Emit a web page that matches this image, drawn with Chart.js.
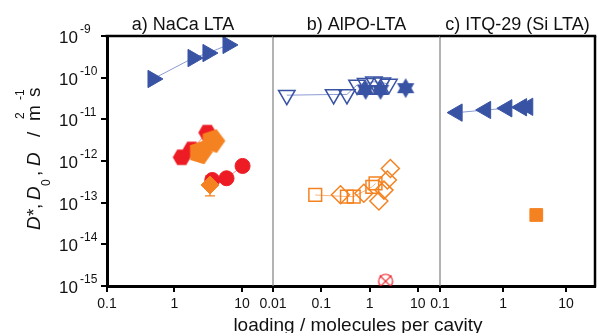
<!DOCTYPE html>
<html><head><meta charset="utf-8">
<script src="https://cdn.jsdelivr.net/npm/chart.js@4.4.0/dist/chart.umd.min.js"></script>
<style>
html,body{margin:0;padding:0;background:#fff;}
#wrap{position:relative;width:606px;height:333px;overflow:hidden;background:#fff;}
#wrap canvas{position:absolute;left:0;top:0;}
</style></head><body>
<div id="wrap">
<canvas id="ca" width="606" height="333"></canvas>
<canvas id="cb" width="606" height="333"></canvas>
<canvas id="cc" width="606" height="333"></canvas>
</div>
<script>
// ---------- data ----------
const panelTitles = ['a) NaCa LTA', 'b) AlPO-LTA', 'c) ITQ-29 (Si LTA)'];
const xAxisTitle = 'loading / molecules per cavity';
const yDecades = [1e-15, 1e-14, 1e-13, 1e-12, 1e-11, 1e-10, 1e-9];
const xTicksA = [0.1, 1, 10];
const xTicksB = [0.01, 0.1, 1, 10];
const xTicksC = [0.1, 1, 10];

// panel a: NaCa LTA
const naBlueX = [0.48, 1.88, 3.13, 6.2];
const naBlueY = [9.3e-11, 2.96e-10, 3.9e-10, 6.1e-10];
const naHexX = [1.28, 1.8, 3.06];
const naHexY = [1.23e-12, 1.9e-12, 4.8e-12];
const naCircX = [3.63, 5.9, 10.2];
const naCircY = [3.5e-13, 3.85e-13, 7.6e-13];
const naPentX = [2.4, 3.7];
const naPentY = [1.6e-12, 3.0e-12];
const naDiaX = [3.36];
const naDiaY = [2.65e-13];
const naDiaErrLo = [1.45e-13];
const naDiaErrHi = [4.4e-13];

// panel b: AlPO-LTA
const alTriX = [0.0193, 0.18, 0.34, 0.55, 0.83, 1.23, 1.84, 2.52];
const alTriY = [3.8e-11, 3.95e-11, 3.95e-11, 6.7e-11, 7.3e-11, 8.0e-11, 7.6e-11, 7.0e-11];
const alStarX = [0.83, 1.69, 5.6];
const alStarY = [5.06e-11, 5.06e-11, 5.6e-11];
const alSqX = [0.075, 0.34, 0.47, 1.14, 1.33];
const alSqY = [1.53e-13, 1.4e-13, 1.4e-13, 2.4e-13, 2.9e-13];
const alDiaX = [0.25, 0.76, 1.56, 1.99, 2.34, 2.7];
const alDiaY = [1.55e-13, 1.68e-13, 1.1e-13, 2.0e-13, 3.5e-13, 6.6e-13];
const alCrossX = [2.15];
const alCrossY = [1.3e-15];

// panel c: ITQ-29
const siTriX = [0.187, 0.53, 1.15, 1.97, 2.47];
const siTriY = [1.45e-11, 1.68e-11, 1.84e-11, 1.95e-11, 2.0e-11];
const siSqX = [3.37];
const siSqY = [5.06e-14];

// ---------- styles ----------
const FONT = '"Liberation Sans", Arial, sans-serif';
const BLUE = '#3953A4', BLUE_LINE = '#8C9BD2';
const RED = '#ED1C24', RED_LINE = '#F28C8C';
const ORANGE = '#F58220', ORANGE_LINE = '#F9B47C';

function shape(kind, r, fill, stroke, lw) {
  const s = Math.ceil(2 * r + 6);
  const c = document.createElement('canvas');
  c.width = s; c.height = s;
  const g = c.getContext('2d');
  const cx = s / 2, cy = s / 2;
  g.lineWidth = lw || 1.2;
  g.strokeStyle = stroke; g.fillStyle = fill;
  const poly = (n, start) => {
    g.beginPath();
    for (let i = 0; i < n; i++) {
      const a = start + 2 * Math.PI / n * i;
      const px = cx + r * Math.cos(a), py = cy + r * Math.sin(a);
      if (i) g.lineTo(px, py); else g.moveTo(px, py);
    }
    g.closePath();
  };
  if (kind === 'hex') { poly(6, 0); g.fill(); }
  else if (kind === 'pent') { poly(5, -Math.PI / 2 + 0.3); g.fill(); }
  else if (kind === 'hexagram') {
    poly(3, -Math.PI / 2); g.fill();
    poly(3, Math.PI / 2); g.fill();
  } else if (kind === 'circx') {
    g.beginPath(); g.arc(cx, cy, r, 0, 2 * Math.PI); g.stroke();
    const d = r * 0.85;
    g.beginPath(); g.moveTo(cx - d, cy - d); g.lineTo(cx + d, cy + d);
    g.moveTo(cx + d, cy - d); g.lineTo(cx - d, cy + d); g.stroke();
  }
  return c;
}

function pts(xs, ys) { return xs.map((x, i) => ({ x: x, y: ys[i] })); }
function ds(xs, ys, o) {
  return Object.assign({ data: pts(xs, ys), showLine: false, borderWidth: 1 }, o);
}

// ---------- plugins ----------
function framePlugin(idx, isFirst, isLast, titleShift) {
  return {
    id: 'frame' + idx,
    afterDraw(chart) {
      const { ctx, chartArea: a } = chart;
      ctx.save();
      if (!isFirst) {
        ctx.strokeStyle = '#8a8a8a'; ctx.lineWidth = 1.3;
        ctx.beginPath(); ctx.moveTo(a.left, a.top); ctx.lineTo(a.left, a.bottom); ctx.stroke();
      }
      ctx.strokeStyle = '#000'; ctx.lineWidth = 2.5;
      ctx.beginPath(); ctx.moveTo(a.left - (isFirst ? 1.5 : 0), a.top); ctx.lineTo(a.right + (isLast ? 1.2 : 0), a.top); ctx.stroke();
      if (isLast) {
        ctx.beginPath(); ctx.moveTo(a.right, a.top); ctx.lineTo(a.right, a.bottom + 1.5); ctx.stroke();
      }
      ctx.fillStyle = '#111';
      ctx.font = '18px ' + FONT;
      ctx.textAlign = 'center'; ctx.textBaseline = 'alphabetic';
      ctx.fillText(panelTitles[idx], (a.left + a.right) / 2 + titleShift, 30);
      ctx.restore();
    }
  };
}

const axisTextPlugin = {
  id: 'axisText',
  afterDraw(chart) {
    const ctx = chart.ctx, ys = chart.scales.y;
    ctx.save();
    ctx.fillStyle = '#111';
    ctx.textBaseline = 'alphabetic';
    // y tick labels with superscripts
    ys.ticks.forEach(t => {
      const v = t.value;
      const e = Math.round(Math.log10(v));
      const py = ys.getPixelForValue(v);
      ctx.font = '17px ' + FONT; ctx.textAlign = 'right';
      ctx.fillText('10', ys.right - 29, py + 7);
      ctx.font = '12px ' + FONT; ctx.textAlign = 'left';
      ctx.fillText('-' + String(-e), ys.right - 27, py - 3);
    });
    // x axis title
    ctx.font = '19px ' + FONT; ctx.textAlign = 'center';
    ctx.fillText(xAxisTitle, 358, 331);
    // y axis title (rotated)
    ctx.translate(40, 230);
    ctx.rotate(-Math.PI / 2);
    ctx.textAlign = 'left';
    const big = '19px ' + FONT, ital = 'italic 19px ' + FONT, small = '12px ' + FONT;
    const pieces = [
      ['D', 0, 0, ital], ['*', 14, 0, big], [',', 21, 0, big],
      ['D', 30, 0, ital], ['0', 44, 10, small], [',', 54, 0, big],
      ['D', 64, 0, ital], ['/', 93, 0, big], ['m', 109, 0, big],
      ['2', 111, -16, small], ['s', 133, 0, big], ['-1', 130, -16, small]
    ];
    pieces.forEach(p => { ctx.font = p[3]; ctx.fillText(p[0], p[1], p[2]); });
    ctx.restore();
  }
};

const errPlugin = {
  id: 'err',
  beforeDatasetsDraw(chart) {
    const ctx = chart.ctx, xs = chart.scales.x, ys = chart.scales.y;
    ctx.save();
    ctx.strokeStyle = ORANGE; ctx.lineWidth = 1.3;
    naDiaX.forEach((x, i) => {
      const px = xs.getPixelForValue(x);
      const lo = ys.getPixelForValue(naDiaErrLo[i]), hi = ys.getPixelForValue(naDiaErrHi[i]);
      ctx.beginPath();
      ctx.moveTo(px, lo); ctx.lineTo(px, hi);
      ctx.moveTo(px - 5, lo); ctx.lineTo(px + 5, lo);
      ctx.moveTo(px - 5, hi); ctx.lineTo(px + 5, hi);
      ctx.stroke();
    });
    ctx.restore();
  }
};

// ---------- chart factory ----------
function makeChart(id, o) {
  return new Chart(document.getElementById(id), {
    type: 'scatter',
    data: { datasets: o.datasets },
    options: {
      responsive: false, animation: false, events: [],
      layout: { padding: { left: o.padL, right: o.padR, top: 36, bottom: 0 } },
      plugins: { legend: { display: false }, tooltip: { enabled: false } },
      scales: {
        x: {
          type: 'logarithmic', min: o.xmin, max: o.xmax,
          afterBuildTicks: s => { s.ticks = o.xticks.map(v => ({ value: v })); },
          afterFit: s => { s.height = 47; },
          ticks: { callback: v => String(v), font: { family: FONT, size: 14 }, color: '#111', padding: 4, maxRotation: 0, autoSkip: false },
          grid: { display: true, drawOnChartArea: false, drawTicks: true, tickLength: 6, lineWidth: 2, color: '#000' },
          border: { display: true, width: 3, color: '#000' }
        },
        y: {
          type: 'logarithmic', min: 1e-15, max: 1e-9, display: o.showY,
          afterBuildTicks: s => { s.ticks = yDecades.map(v => ({ value: v })); },
          afterFit: s => { s.width = o.showY ? 107 : 0; },
          ticks: { display: false },
          grid: { display: true, drawOnChartArea: false, drawTicks: true, tickLength: 6, lineWidth: 2, color: '#000' },
          border: { display: true, width: 3, color: '#000' }
        }
      }
    },
    plugins: o.plugins
  });
}

// panel a
makeChart('ca', {
  padL: 0, padR: 606 - 273, xmin: 0.1, xmax: 28.8, xticks: xTicksA, showY: true,
  plugins: [errPlugin, axisTextPlugin, framePlugin(0, true, false, -7)],
  datasets: [
    ds(naPentX, naPentY, { pointStyle: shape('pent', 12.5, ORANGE, ORANGE), pointRadius: 12.5 }),
    ds(naDiaX, naDiaY, { pointStyle: 'rectRot', pointRadius: 9, pointBackgroundColor: ORANGE, pointBorderColor: ORANGE }),
    ds(naBlueX, naBlueY, { showLine: true, borderColor: BLUE_LINE, borderWidth: 1, pointStyle: 'triangle', rotation: 90, pointRadius: 10, pointBackgroundColor: BLUE, pointBorderColor: BLUE }),
    ds(naHexX, naHexY, { showLine: true, borderColor: RED_LINE, borderWidth: 1, pointStyle: shape('hex', 9, RED, RED), pointRadius: 9 }),
    ds(naCircX, naCircY, { showLine: true, borderColor: RED_LINE, borderWidth: 1, pointStyle: 'circle', pointRadius: 7.5, pointBackgroundColor: RED, pointBorderColor: RED })
  ]
});

// panel b
makeChart('cb', {
  padL: 273, padR: 606 - 440, xmin: 0.01, xmax: 28.8, xticks: xTicksB, showY: false,
  plugins: [framePlugin(1, false, false, 0)],
  datasets: [
    ds(alStarX, alStarY, { pointStyle: shape('hexagram', 10, BLUE, BLUE), pointRadius: 10 }),
    ds(alCrossX, alCrossY, { pointStyle: shape('circx', 7, 'rgba(0,0,0,0)', RED, 1.2), pointRadius: 7 }),
    ds(alDiaX, alDiaY, { pointStyle: 'rectRot', pointRadius: 9, pointBackgroundColor: 'rgba(0,0,0,0)', pointBorderColor: ORANGE, pointBorderWidth: 1.5 }),
    ds(alSqX, alSqY, { showLine: true, borderColor: ORANGE_LINE, borderWidth: 1, pointStyle: 'rect', pointRadius: 9, pointBackgroundColor: 'rgba(0,0,0,0)', pointBorderColor: ORANGE, pointBorderWidth: 1.5 }),
    ds(alTriX, alTriY, { showLine: true, borderColor: BLUE_LINE, borderWidth: 1, pointStyle: 'triangle', rotation: 180, pointRadius: 9.5, pointBackgroundColor: 'rgba(0,0,0,0)', pointBorderColor: BLUE, pointBorderWidth: 1.5 })
  ]
});

// panel c
makeChart('cc', {
  padL: 440, padR: 1, xmin: 0.1, xmax: 28.8, xticks: xTicksC, showY: false,
  plugins: [framePlugin(2, false, true, 0)],
  datasets: [
    ds(siTriX, siTriY, { showLine: true, borderColor: BLUE_LINE, borderWidth: 1, pointStyle: 'triangle', rotation: -90, pointRadius: 10, pointBackgroundColor: BLUE, pointBorderColor: BLUE }),
    ds(siSqX, siSqY, { pointStyle: 'rect', pointRadius: 9, pointBackgroundColor: ORANGE, pointBorderColor: ORANGE })
  ]
});
</script>
</body></html>
